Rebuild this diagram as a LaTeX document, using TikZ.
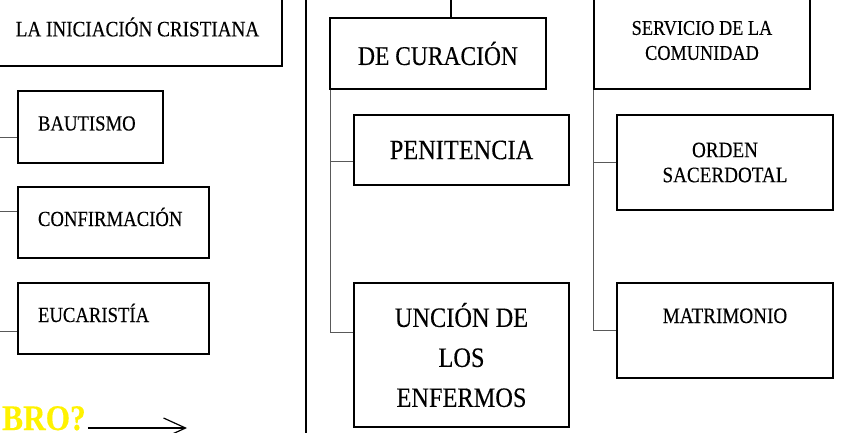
\documentclass[tikz,border=0pt]{standalone}
\usepackage{fontspec}
\setmainfont{Liberation Serif}[FakeStretch=0.87, FakeBold=0.3]
\usetikzlibrary{arrows.meta}

\begin{document}
\begin{tikzpicture}[x=1pt,y=-1pt]
\tikzstyle{caja} = [draw, line width=1.5, rectangle, inner sep=0, align=center, font=\fontsize{22}{25}\selectfont];
\tikzstyle{izq} = [caja, inner xsep=20, align=left, text height=15, text depth=8, font=\fontsize{21.5}{25}\selectfont];
\tikzstyle{conn} = [black!65, line width=1];
\tikzstyle{sep} = [line width=1.2];
\tikzstyle{flecha} = [line width=1.2, -{Straight Barb[length=22pt, width=20pt]}];
\useasboundingbox (0,0) rectangle (846,433);
\clip (0,0) rectangle (846,433);
% grupos
\node [caja, minimum width=289, minimum height=78] (g1) at (137.5,27) {LA INICIACIÓN CRISTIANA};
\node [caja, font=\fontsize{27}{30}\selectfont, minimum width=216, minimum height=71] (g2) at (438,53.5) {DE CURACIÓN};
\node [caja, font=\fontsize{21}{25}\selectfont, minimum width=216, minimum height=97] (g3) at (702,40.5) {SERVICIO DE LA\\COMUNIDAD};
% sacramentos
\node [izq, text width=105, minimum height=72] (s1) at (90.5,127) {BAUTISMO};
\node [izq, text width=151, minimum height=71] (s2) at (113.5,222.5) {CONFIRMACIÓN};
\node [izq, text width=151, minimum height=71] (s3) at (113.5,318.5) {EUCARISTÍA};
\node [caja, font=\fontsize{28}{40}\selectfont, minimum width=215, minimum height=70] (s4) at (461.5,150) {PENITENCIA};
\node [caja, font=\fontsize{28}{40}\selectfont, minimum width=215, minimum height=144] (s5) at (461.5,355) {UNCIÓN DE\\LOS\\ENFERMOS};
\node [caja, minimum width=216, minimum height=95] (s6) at (725,162.5) {ORDEN\\SACERDOTAL};
\node [caja, minimum width=216, minimum height=95, text height=15, text depth=30] (s7) at (725,330.5) {MATRIMONIO};
\draw [conn] ([xshift=1pt]g1.south west) |- ([yshift=-11pt]s1.west);
\draw [conn] ([xshift=1pt]g1.south west) |- ([yshift=11.5pt]s2.west);
\draw [conn] ([xshift=1pt]g1.south west) |- ([yshift=-12.5pt]s3.west);
\draw [conn] ([xshift=1pt]g2.south west) |- ([yshift=-12pt]s4.west);
\draw [conn] ([xshift=1pt]g2.south west) |- ([yshift=23pt]s5.west);
\draw [conn] (g3.south west) |- (s6.west);
\draw [conn] (g3.south west) |- (s7.west);
% lineas de arriba y separador
\coordinate (arriba) at (451,-5);
\draw [sep] (arriba) -- (arriba |- g2.north);
\coordinate (div1) at (306,-5);
\coordinate (div2) at (306,440);
\draw [sep] (div1) -- (div2);
% pregunta
\node [font=\fontsize{36}{40}\selectfont\bfseries, text=yellow, anchor=base west, inner sep=0] (pregunta) at (2,430) {BRO?};
\coordinate (punta) at (187,428);
\draw [flecha] ([xshift=2pt]pregunta.east |- punta) -- (punta);
\end{tikzpicture}
\end{document}
